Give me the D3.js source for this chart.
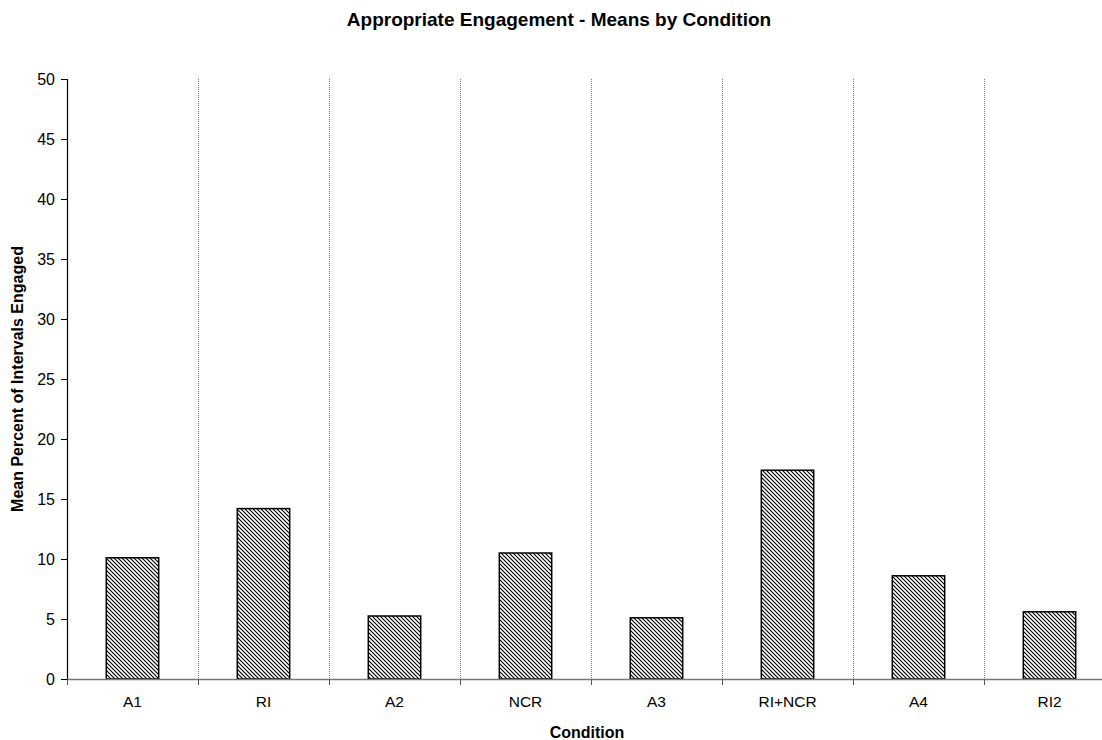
<!DOCTYPE html>
<html><head><meta charset="utf-8">
<script src="https://cdn.jsdelivr.net/npm/d3@7"></script>
<style>body{margin:0;background:#fff;} text{font-family:Arial,"Liberation Sans",sans-serif;}</style>
</head><body><svg id="c" width="1102" height="740"></svg>
<script>
const categories = ["A1","RI","A2","NCR","A3","RI+NCR","A4","RI2"];
const values = [10.1, 14.2, 5.25, 10.5, 5.1, 17.4, 8.6, 5.6];
const yTicks = [0,5,10,15,20,25,30,35,40,45,50];
const title = "Appropriate Engagement - Means by Condition";
const xTitle = "Condition";
const yTitle = "Mean Percent of Intervals Engaged";

const svg = d3.select("#c");
const pLeft = 67, pRight = 1115, pTop = 79, pBottom = 679;
const x = d3.scaleBand().domain(categories).range([pLeft, pRight]).paddingInner(0.6).paddingOuter(0.3);
const xb = d3.scaleBand().domain(categories).range([pLeft, pRight]);
const y = d3.scaleLinear().domain([0,50]).range([pBottom, pTop]);

const defs = svg.append("defs");
const pat = defs.append("pattern").attr("id","hatch").attr("patternUnits","userSpaceOnUse")
  .attr("width",4).attr("height",4);
pat.append("rect").attr("width",4).attr("height",4).attr("fill","#fff");
pat.append("path").attr("d","M-1,-1 L5,5 M3,-1 L5,1 M-1,3 L1,5")
  .attr("stroke","#000").attr("stroke-width",1.1);

// dotted dividers
svg.append("g").selectAll("line").data(categories.slice(1)).join("line")
  .attr("x1", d => Math.round(xb(d))+0.5).attr("x2", d => Math.round(xb(d))+0.5)
  .attr("y1", pTop).attr("y2", pBottom)
  .attr("stroke","#777").attr("stroke-width",1).attr("stroke-dasharray","1,1");

// bars
svg.append("g").selectAll("rect").data(categories).join("rect")
  .attr("x", d => x(d)).attr("width", x.bandwidth())
  .attr("y", (d,i) => y(values[i])).attr("height", (d,i) => y(0) - y(values[i]))
  .attr("fill","url(#hatch)").attr("stroke","#000").attr("stroke-width",1.5);

// y axis
const ya = svg.append("g").attr("transform",`translate(${pLeft},0)`)
  .call(d3.axisLeft(y).tickValues(yTicks).tickSize(6).tickPadding(6));
ya.select(".domain").attr("stroke","#000").attr("stroke-width",1.2);
ya.selectAll(".tick line").attr("stroke","#000");
ya.selectAll("text").attr("font-size",16).attr("fill","#000").style("font-family","Arial");

// x axis
const xa = svg.append("g").attr("transform",`translate(0,${pBottom})`)
  .call(d3.axisBottom(xb).tickSize(0).tickPadding(17));
xa.select(".domain").attr("stroke","#777").attr("stroke-width",1.5);
xa.selectAll("text").attr("font-size",15.5).attr("fill","#000").style("font-family","Arial");
svg.append("g").selectAll("line").data(categories).join("line")
  .attr("x1", d => Math.round(xb(d))+0.5).attr("x2", d => Math.round(xb(d))+0.5)
  .attr("y1", pBottom).attr("y2", pBottom+6).attr("stroke","#555");

svg.append("text").attr("x",559).attr("y",26).attr("text-anchor","middle")
  .attr("font-size",19).attr("font-weight","bold").text(title);
svg.append("text").attr("x",587).attr("y",738).attr("text-anchor","middle")
  .attr("font-size",16).attr("font-weight","bold").text(xTitle);
svg.append("text").attr("transform",`translate(23,${(pTop+pBottom)/2}) rotate(-90)`)
  .attr("text-anchor","middle").attr("font-size",16).attr("font-weight","bold").text(yTitle);
</script></body></html>
